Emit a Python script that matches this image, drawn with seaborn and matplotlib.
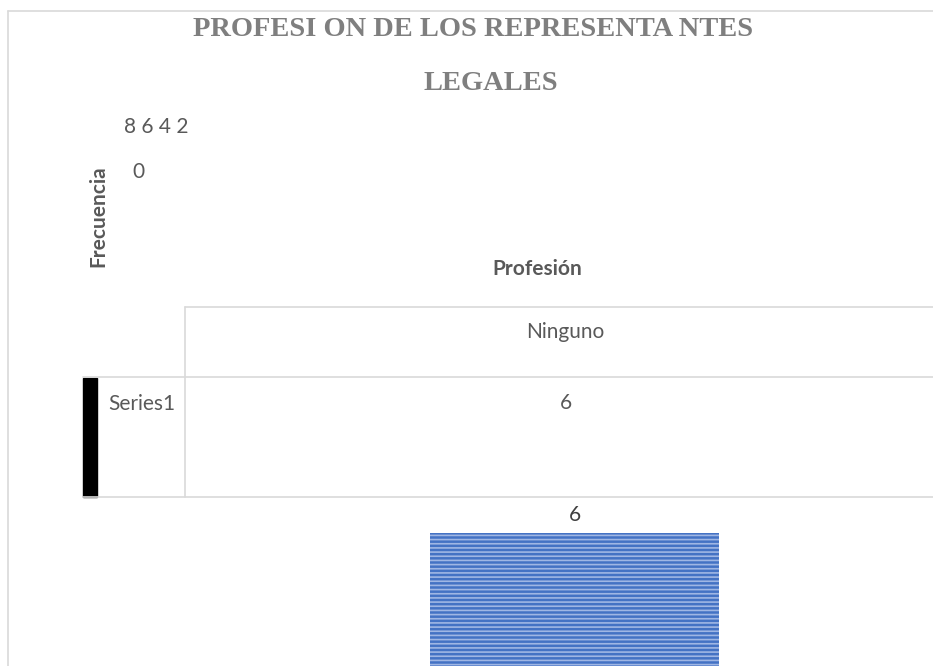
import matplotlib
matplotlib.use("Agg")
import matplotlib.pyplot as plt
import seaborn as sns
from matplotlib.lines import Line2D
from matplotlib.patches import Rectangle

# data
categories = ["Ninguno"]
values = [6]
series_name = "Series1"
ytick_vals = [0, 2, 4, 6, 8]
title_lines = ["PROFESI ON DE LOS REPRESENTA NTES", "LEGALES"]
x_label = "Profesión"
y_label = "Frecuencia"

sns.set_theme(style="white")
plt.rcParams['font.family'] = ['Lato', 'DejaVu Sans']
plt.rcParams['hatch.linewidth'] = 1.2

W, H = 933, 666
fig = plt.figure(figsize=(W / 100, H / 100), dpi=100)


def fx(x):
    return x / W


def fy(y):
    return 1 - y / H


def hline(y, x0, x1, color='#d9d9d9', lw=1.2):
    fig.add_artist(Line2D([fx(x0), fx(x1)], [fy(y), fy(y)], color=color, lw=lw,
                          transform=fig.transFigure))


def vline(x, y0, y1, color='#d9d9d9', lw=1.2):
    fig.add_artist(Line2D([fx(x), fx(x)], [fy(y0), fy(y1)], color=color, lw=lw,
                          transform=fig.transFigure))


# outer chart border (cropped)
vline(8, 11, H)
hline(11, 8, W)

# data table grid
vline(185, 307, 497)
hline(307, 185, W)
hline(377, 83, W)
hline(497, 83, W)
fig.add_artist(Rectangle((fx(83), fy(497)), fx(97) - fx(83), fy(378) - fy(497),
                         color='black', transform=fig.transFigure))

# title
title_kw = dict(ha='center', va='center', family='Liberation Serif',
                fontweight='bold', fontsize=20.5, color='#7f7f7f')
fig.text(fx(473), fy(29), title_lines[0], **title_kw)
fig.text(fx(491), fy(84), title_lines[1], **title_kw)

# garbled y tick labels
txt_color = '#595959'
top_ticks = " ".join(str(v) for v in sorted(ytick_vals[1:], reverse=True))
fig.text(fx(124), fy(127), top_ticks, ha='left', va='center', fontsize=15, color=txt_color)
fig.text(fx(132), fy(172), str(ytick_vals[0]), ha='left', va='center', fontsize=15, color=txt_color)

# axis titles
fig.text(fx(98), fy(216), y_label, rotation=90, ha='center', va='center',
         fontsize=15, fontweight='bold', color=txt_color)
fig.text(fx(537), fy(269), x_label, ha='center', va='center',
         fontsize=15, fontweight='bold', color=txt_color)

# table contents
fig.text(fx(565), fy(332), categories[0], ha='center', va='center', fontsize=15, color=txt_color)
fig.text(fx(108), fy(404), series_name, ha='left', va='center', fontsize=15, color=txt_color)
fig.text(fx(566), fy(403), str(values[0]), ha='center', va='center', fontsize=15, color=txt_color)

# bar plot area (extends past the bottom/right of the crop)
ax_left, ax_right = 185, 964
ax_top, ax_bottom = 444, 800
ax = fig.add_axes([fx(ax_left), fy(ax_bottom), (ax_right - ax_left) / W, (ax_bottom - ax_top) / H])
ax.set_facecolor('none')
sns.barplot(x=categories, y=values, color='#4472c4', saturation=1, width=0.371, ax=ax)
for p in ax.patches:
    p.set_edgecolor('#9fb6e4')
    p.set_linewidth(0)
    p.set_hatch('----')
ax.bar_label(ax.containers[0], padding=6, fontsize=15, color='#404040')
ax.set_xlim(-0.5, 0.5)
ax.set_ylim(0, ytick_vals[-1])
ax.axis('off')

fig.savefig("out.png", dpi=100)
